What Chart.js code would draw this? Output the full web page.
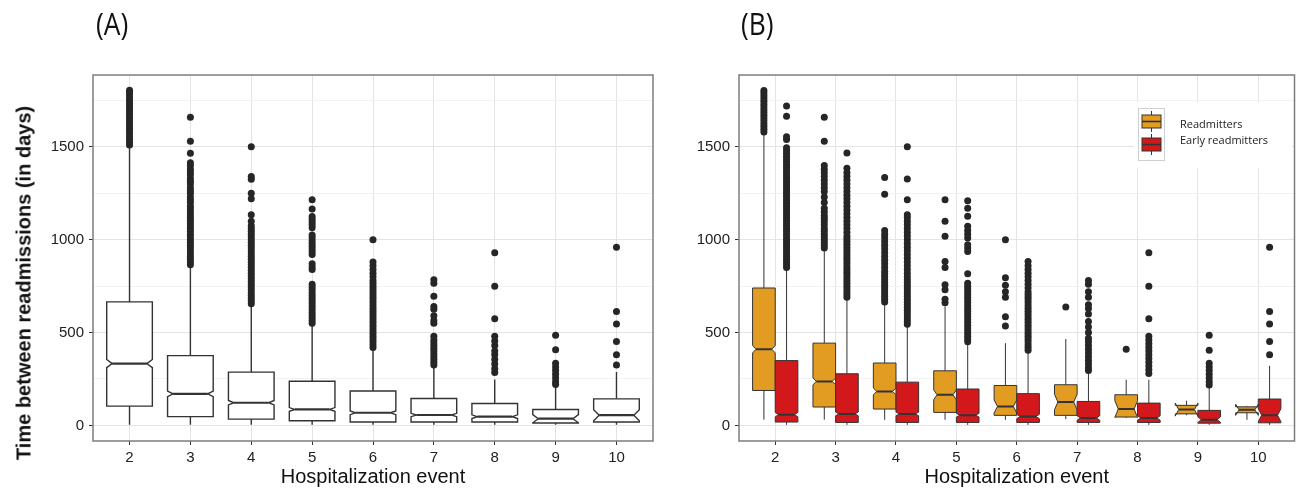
<!DOCTYPE html>
<html>
<head>
<meta charset="utf-8">
<script src="https://cdn.jsdelivr.net/npm/chart.js@4.4.0/dist/chart.umd.min.js"></script>
<style>
  body { margin: 0; background: #fff; width: 1298px; height: 492px; position: relative; overflow: hidden; }
  canvas { position: absolute; top: 0; }
  #chartA { left: 0; }
  #chartB { left: 660px; }
  .tag { position: absolute; top: 2px; font: 31px 'Open Sans', sans-serif; color: #111; transform: scaleX(0.85); transform-origin: left top; }
  #ytitle { position: absolute; left: 24px; top: 283px; transform: translate(-50%, -50%) rotate(-90deg);
            font: bold 20px 'Liberation Sans', Arial, sans-serif; white-space: nowrap; color: #111; }
</style>
</head>
<body>
<canvas id="chartA" width="660" height="492"></canvas>
<canvas id="chartB" width="638" height="492"></canvas>
<div class="tag" style="left:96px">(A)</div>
<div class="tag" style="left:741px">(B)</div>
<div id="ytitle">Time between readmissions (in days)</div>
<script>
const categories = [2, 3, 4, 5, 6, 7, 8, 9, 10]
const yTickLabels = [0, 500, 1000, 1500]
const yMinorTicks = [250, 750, 1250, 1750]

// (A) all readmissions
const allLow = [3, 3, 3, 3, 3, 3, 3, 3, 3]
const allQ1 = [104, 47, 34, 25, 18, 18, 18, 13, 18]
const allMedian = [333, 170, 122, 86, 68, 56, 47, 36, 55]
const allQ3 = [665, 376, 287, 238, 185, 145, 118, 86, 143]
const allHigh = [1500, 857, 650, 543, 412, 314, 247, 211, 287]
const allNotch = [22, 15, 12, 10, 10, 9, 10, 22, 30]
const allOutliers = [
  [1510, 1525, 1540, 1555, 1570, 1585, 1600, 1615, 1630, 1645, 1660, 1675, 1690, 1705, 1720, 1735, 1750, 1765, 1780, 1795, 1805],
  [865, 880, 895, 910, 925, 940, 955, 970, 985, 1000, 1015, 1030, 1045, 1060, 1075, 1090, 1105, 1120, 1135, 1150, 1165, 1180, 1200, 1215, 1230, 1250, 1265, 1280, 1300, 1315, 1330, 1350, 1365, 1380, 1400, 1415, 1465, 1530, 1660],
  [655, 670, 685, 700, 715, 730, 745, 760, 775, 790, 805, 820, 835, 850, 865, 880, 895, 910, 925, 940, 955, 970, 985, 1000, 1015, 1030, 1045, 1060, 1075, 1100, 1135, 1220, 1250, 1325, 1340, 1500],
  [550, 565, 580, 595, 610, 625, 640, 655, 670, 685, 700, 715, 730, 745, 760, 840, 855, 870, 920, 935, 950, 965, 980, 995, 1010, 1025, 1065, 1080, 1095, 1110, 1125, 1165, 1215],
  [420, 435, 450, 465, 480, 495, 510, 525, 540, 555, 570, 585, 600, 615, 630, 645, 660, 675, 690, 705, 720, 735, 750, 765, 780, 800, 820, 840, 860, 880, 1000],
  [325, 340, 355, 370, 385, 400, 415, 430, 445, 460, 480, 550, 565, 590, 625, 640, 695, 765, 785],
  [285, 305, 330, 355, 380, 400, 430, 455, 480, 575, 750, 930],
  [220, 235, 255, 275, 295, 315, 335, 408, 485],
  [325, 381, 452, 546, 614, 960],
]

// (B) readmitters
const readLow = [31, 31, 30, 30, 30, 34, 40, 55, 30]
const readQ1 = [188, 99, 88, 70, 54, 54, 45, 62, 68]
const readMedian = [410, 237, 183, 165, 102, 126, 88, 85, 84]
const readQ3 = [740, 443, 336, 294, 215, 219, 165, 108, 100]
const readHigh = [1565, 946, 659, 641, 443, 465, 246, 133, 105]
const readNotch = [20, 18, 18, 26, 35, 42, 45, 35, 30]
const readOutliers = [
  [1580, 1595, 1610, 1625, 1640, 1655, 1670, 1685, 1700, 1715, 1730, 1745, 1760, 1775, 1790, 1803],
  [955, 970, 985, 1000, 1015, 1030, 1045, 1060, 1080, 1100, 1115, 1130, 1150, 1170, 1200, 1230, 1260, 1280, 1300, 1320, 1340, 1360, 1380, 1400, 1530, 1660],
  [665, 680, 695, 710, 725, 740, 755, 770, 785, 800, 815, 830, 850, 870, 890, 910, 930, 950, 970, 990, 1010, 1030, 1050, 1245, 1335],
  [660, 680, 730, 757, 851, 883, 1018, 1099, 1215],
  [535, 585, 690, 720, 755, 795, 1000],
  [637],
  [410],
  [],
  [],
]

// (B) early readmitters
const earlyLow = [3, 3, 3, 3, 3, 3, 3, 3, 3]
const earlyQ1 = [18, 16, 16, 16, 16, 16, 16, 12, 14]
const earlyMedian = [58, 62, 62, 55, 48, 40, 40, 31, 55]
const earlyQ3 = [349, 278, 233, 196, 171, 129, 120, 81, 142]
const earlyHigh = [839, 677, 542, 443, 398, 291, 246, 210, 321]
const earlyNotch = [12, 10, 10, 10, 12, 12, 12, 15, 35]
const earlyOutliers = [
  [850, 865, 880, 895, 910, 925, 940, 955, 970, 985, 1000, 1015, 1030, 1045, 1060, 1075, 1090, 1105, 1120, 1135, 1150, 1165, 1180, 1195, 1210, 1225, 1240, 1255, 1270, 1285, 1300, 1315, 1330, 1345, 1360, 1375, 1390, 1405, 1420, 1435, 1450, 1465, 1480, 1495, 1540, 1555, 1665, 1720],
  [690, 705, 720, 735, 750, 765, 780, 795, 810, 825, 840, 855, 870, 885, 900, 915, 930, 945, 960, 975, 990, 1005, 1020, 1040, 1060, 1080, 1100, 1120, 1140, 1160, 1180, 1200, 1220, 1240, 1260, 1280, 1300, 1320, 1340, 1360, 1385, 1467],
  [545, 560, 575, 590, 605, 620, 635, 650, 665, 680, 695, 710, 725, 740, 755, 770, 785, 800, 820, 840, 860, 880, 900, 920, 940, 960, 980, 1000, 1020, 1040, 1060, 1080, 1100, 1120, 1135, 1215, 1327, 1500],
  [450, 465, 480, 495, 510, 525, 540, 555, 570, 585, 600, 615, 630, 645, 660, 675, 690, 705, 720, 735, 750, 765, 817, 937, 955, 973, 1009, 1030, 1050, 1072, 1126, 1170, 1210],
  [405, 420, 435, 450, 465, 480, 495, 510, 525, 540, 555, 570, 585, 600, 615, 630, 645, 660, 675, 690, 705, 720, 740, 760, 780, 800, 820, 840, 860, 883],
  [295, 310, 330, 350, 370, 390, 410, 430, 450, 470, 500, 530, 560, 600, 630, 650, 690, 720, 760, 780],
  [280, 300, 320, 340, 360, 380, 400, 420, 440, 460, 480, 575, 750, 930],
  [218, 235, 255, 275, 295, 315, 335, 405, 485],
  [381, 452, 546, 614, 960],
]

const FONT = "'Liberation Sans', Arial, sans-serif"

const groupsA = [
  { offset: 0, width: 0.75, inset: 0.12, fill: '#ffffff', line: 1.4, medLine: 2.2,
    low: allLow, q1: allQ1, med: allMedian, q3: allQ3, high: allHigh, notch: allNotch, outliers: allOutliers },
]
const groupsB = [
  { offset: -0.1875, width: 0.375, inset: 0.15, fill: '#e29c22', line: 1, medLine: 2,
    low: readLow, q1: readQ1, med: readMedian, q3: readQ3, high: readHigh, notch: readNotch, outliers: readOutliers },
  { offset: 0.1875, width: 0.375, inset: 0.15, fill: '#d3181c', line: 1, medLine: 2,
    low: earlyLow, q1: earlyQ1, med: earlyMedian, q3: earlyQ3, high: earlyHigh, notch: earlyNotch, outliers: earlyOutliers },
]

function boxPlugin(groups) {
  return {
    id: 'notchedBoxes',
    beforeDatasetsDraw(chart) {
      const { ctx, chartArea, scales } = chart
      const x = scales.x
      const y = scales.y
      ctx.save()
      ctx.beginPath()
      ctx.rect(chartArea.left, chartArea.top, chartArea.width, chartArea.height)
      ctx.clip()
      ctx.strokeStyle = '#333333'
      ctx.lineJoin = 'miter'
      groups.forEach((g) => {
        categories.forEach((cat, i) => {
          const c = cat + g.offset
          const l = x.getPixelForValue(c - g.width / 2)
          const r = x.getPixelForValue(c + g.width / 2)
          const cx = x.getPixelForValue(c)
          const ins = (r - l) * g.inset
          const py = (v) => y.getPixelForValue(v)
          const nlo = g.med[i] - g.notch[i]
          const nhi = g.med[i] + g.notch[i]

          ctx.lineWidth = g.line
          ctx.beginPath()
          ctx.moveTo(cx, py(g.high[i]))
          ctx.lineTo(cx, py(g.q3[i]))
          ctx.moveTo(cx, py(g.q1[i]))
          ctx.lineTo(cx, py(g.low[i]))
          ctx.stroke()

          ctx.beginPath()
          ctx.moveTo(l, py(g.q1[i]))
          ctx.lineTo(l, py(nlo))
          ctx.lineTo(l + ins, py(g.med[i]))
          ctx.lineTo(l, py(nhi))
          ctx.lineTo(l, py(g.q3[i]))
          ctx.lineTo(r, py(g.q3[i]))
          ctx.lineTo(r, py(nhi))
          ctx.lineTo(r - ins, py(g.med[i]))
          ctx.lineTo(r, py(nlo))
          ctx.lineTo(r, py(g.q1[i]))
          ctx.closePath()
          ctx.fillStyle = g.fill
          ctx.fill()
          ctx.stroke()

          ctx.lineWidth = g.medLine
          ctx.beginPath()
          ctx.moveTo(l + ins, py(g.med[i]))
          ctx.lineTo(r - ins, py(g.med[i]))
          ctx.stroke()
        })
      })
      ctx.restore()
    },
  }
}

const framePlugin = {
  id: 'frame',
  afterDraw(chart) {
    const { ctx, chartArea } = chart
    ctx.save()
    ctx.strokeStyle = '#7d7d7d'
    ctx.lineWidth = 1.5
    ctx.strokeRect(chartArea.left, chartArea.top, chartArea.width, chartArea.height)
    ctx.restore()
  },
}

const legendPlugin = {
  id: 'boxLegend',
  afterDraw(chart) {
    const { ctx, chartArea } = chart
    const x0 = chartArea.left + 399
    const y0 = chartArea.top + 27
    ctx.save()
    ctx.fillStyle = '#ffffff'
    ctx.fillRect(x0 - 4, y0, 158, 66)
    ctx.strokeStyle = '#cfcfcf'
    ctx.lineWidth = 1
    ctx.strokeRect(x0 + 0.5, y0 + 6.5, 26, 52)
    const keys = [
      { fill: groupsB[0].fill, top: y0 + 13, text: 'Readmitters', ty: y0 + 23 },
      { fill: groupsB[1].fill, top: y0 + 36, text: 'Early readmitters', ty: y0 + 39 },
    ]
    keys.forEach((k) => {
      const kx = x0 + 4
      const kw = 19
      const kh = 13
      ctx.strokeStyle = '#333333'
      ctx.lineWidth = 1
      ctx.beginPath()
      ctx.moveTo(kx + kw / 2, k.top - 4)
      ctx.lineTo(kx + kw / 2, k.top + kh + 4)
      ctx.stroke()
      ctx.fillStyle = k.fill
      ctx.fillRect(kx, k.top, kw, kh)
      ctx.strokeRect(kx, k.top, kw, kh)
      ctx.lineWidth = 1.6
      ctx.beginPath()
      ctx.moveTo(kx, k.top + kh / 2)
      ctx.lineTo(kx + kw, k.top + kh / 2)
      ctx.stroke()
      ctx.fillStyle = '#222222'
      ctx.font = "11px 'Open Sans', sans-serif"
      ctx.textBaseline = 'middle'
      ctx.fillText(k.text, x0 + 42, k.ty)
    })
    ctx.restore()
  },
}

function makePanel(id, yWidth, padRight, groups, extra) {
  const datasets = groups.map((g) => ({
    data: g.outliers.flatMap((vals, i) => vals.map((v) => ({ x: categories[i] + g.offset, y: v }))),
    pointRadius: 3.5,
    pointHoverRadius: 3.5,
    pointBackgroundColor: '#262626',
    pointBorderWidth: 0,
  }))
  return new Chart(document.getElementById(id), {
    type: 'scatter',
    data: { datasets },
    plugins: [boxPlugin(groups), framePlugin].concat(extra),
    options: {
      responsive: false,
      animation: false,
      events: [],
      layout: { padding: { top: 75, right: padRight, left: 0, bottom: 0 } },
      plugins: { legend: { display: false }, tooltip: { enabled: false } },
      scales: {
        x: {
          type: 'linear',
          min: 1.4,
          max: 10.6,
          afterBuildTicks: (s) => { s.ticks = categories.map((v) => ({ value: v })) },
          afterFit: (s) => { s.height = 51 },
          ticks: { autoSkip: false, maxRotation: 0, padding: 4, color: '#222222', font: { family: FONT, size: 15 } },
          grid: { color: '#e4e4e4', tickColor: '#333333', tickLength: 4 },
          border: { display: false },
          title: { display: true, text: 'Hospitalization event', color: '#111111',
                   font: { family: FONT, size: 20 }, padding: { top: 0, bottom: 3 } },
        },
        y: {
          type: 'linear',
          min: -84,
          max: 1887,
          afterBuildTicks: (s) => {
            s.ticks = yTickLabels.concat(yMinorTicks).sort((a, b) => a - b).map((v) => ({ value: v }))
          },
          afterFit: (s) => { s.width = yWidth },
          ticks: {
            autoSkip: false,
            padding: 5,
            color: '#222222',
            font: { family: FONT, size: 15 },
            callback: (v) => (yTickLabels.includes(v) ? String(v) : ''),
          },
          grid: {
            color: (c) => (yTickLabels.includes(c.tick.value) ? '#e4e4e4' : '#f2f2f2'),
            tickColor: (c) => (yTickLabels.includes(c.tick.value) ? '#333333' : 'rgba(0,0,0,0)'),
            tickLength: 4,
          },
          border: { display: false },
        },
      },
    },
  })
}

makePanel('chartA', 93, 7, groupsA, [])
makePanel('chartB', 79, 1, groupsB, [legendPlugin])
</script>
</body>
</html>
